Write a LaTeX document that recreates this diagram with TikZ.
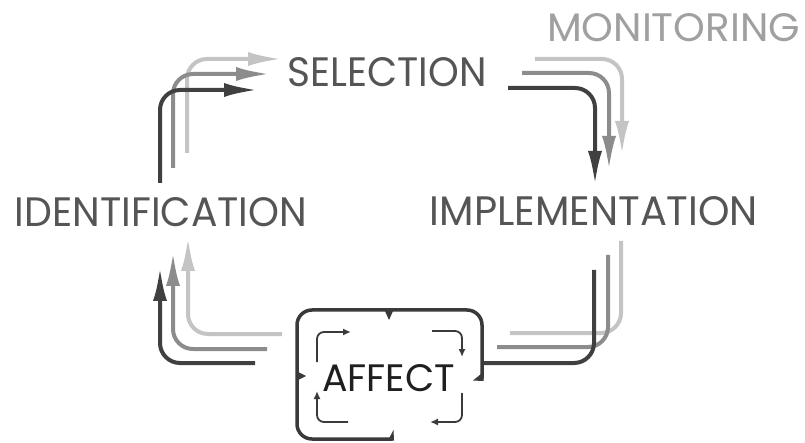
\documentclass[tikz,border=0pt]{standalone}
\usepackage{fontspec}
\setmainfont{Poppins}
\usepackage{graphicx}
\usetikzlibrary{arrows.meta}
\definecolor{cdark}{HTML}{404040}
\definecolor{cmed}{HTML}{8C8C8C}
\definecolor{clight}{HTML}{C4C4C4}
\definecolor{ctext}{HTML}{555555}
\definecolor{cmon}{HTML}{A0A0A0}
\definecolor{cbox}{HTML}{3A3A3A}
\tikzset{
  lbl/.style={inner sep=0pt, outer sep=0pt, anchor=center},
  flow/.style={line width=4pt, rounded corners=20pt},
  bigtip/.style={-{Latex[length=34pt,width=14pt]}},
  fdark/.style={flow, draw=cdark},
  fmed/.style={flow, draw=cmed},
  flight/.style={flow, draw=clight},
  boxline/.style={draw=cbox, line width=3.5pt, line cap=round, rounded corners=15pt},
  spike/.style={fill=cbox, draw=none},
  inner/.style={draw=cbox, line width=1.8pt, rounded corners=7pt, -{Latex[length=8pt,width=7pt]}}
}
\newcommand{\fitlbl}[3]{\resizebox{#1}{#2}{#3}}
\begin{document}
\begin{tikzpicture}[x=1pt,y=-1pt]
\useasboundingbox[fill=white] (0,0) rectangle (805,443);

% labels
\node[lbl, text=cmon] (mon) at (673.5,28) {\fitlbl{253pt}{28pt}{MONITORING}};
\node[lbl, text=ctext] (sel) at (387,72.5) {\fitlbl{199pt}{29pt}{SELECTION}};
\node[lbl, text=ctext] (ide) at (161,212.5) {\fitlbl{292pt}{29pt}{IDENTIFICATION}};
\node[lbl, text=ctext] (imp) at (594,211.5) {\fitlbl{328pt}{29pt}{IMPLEMENTATION}};
\node[lbl, text=black!88] (aff) at (388.5,378.5) {\fitlbl{133pt}{27pt}{AFFECT}};

% identification -> selection
\draw[flight, bigtip] (187,153) |- (282,59);
\draw[fmed, bigtip] (173,168) |- (270,74);
\draw[fdark, bigtip] (160,183) |- (258,90);

% selection -> implementation
\draw[flight, bigtip] (535,59) -| (622,155);
\draw[fmed, bigtip] (522,73) -| (609,170);
\draw[fdark, bigtip] (508,88) -| (595,185);

% affect -> implementation
\draw[flight] (510,333) -| (621,241);
\draw[fmed] (497,347) -| (608,255);
\draw[fdark] (482,363) -| (594,270);

% affect -> identification
\draw[flight, bigtip] (282,334) -| (188,237);
\draw[fmed, bigtip] (267,349) -| (173,252);
\draw[fdark, bigtip] (255,363) -| (160,267);

% affect box
\draw[boxline] (392,439) -- (297,439) -- (297,310) -- (482,310) -- (482,378);
\fill[spike] (384.5,310) -- (393.5,310) -- (389,320) -- cycle;
\fill[spike] (297,371.5) -- (297,380.5) -- (306,376) -- cycle;
\fill[spike] (483.5,372) -- (483.5,381) -- (473,380.5) -- cycle;
\fill[spike] (388,440.5) -- (394,440.5) -- (393.5,430) -- cycle;

% inner cycle
\draw[inner] (317,362) |- (351,332);
\draw[inner] (432,331) -| (462,357);
\draw[inner] (462,393) |- (430,422);
\draw[inner] (348,422) -| (317,391);
\end{tikzpicture}
\end{document}
